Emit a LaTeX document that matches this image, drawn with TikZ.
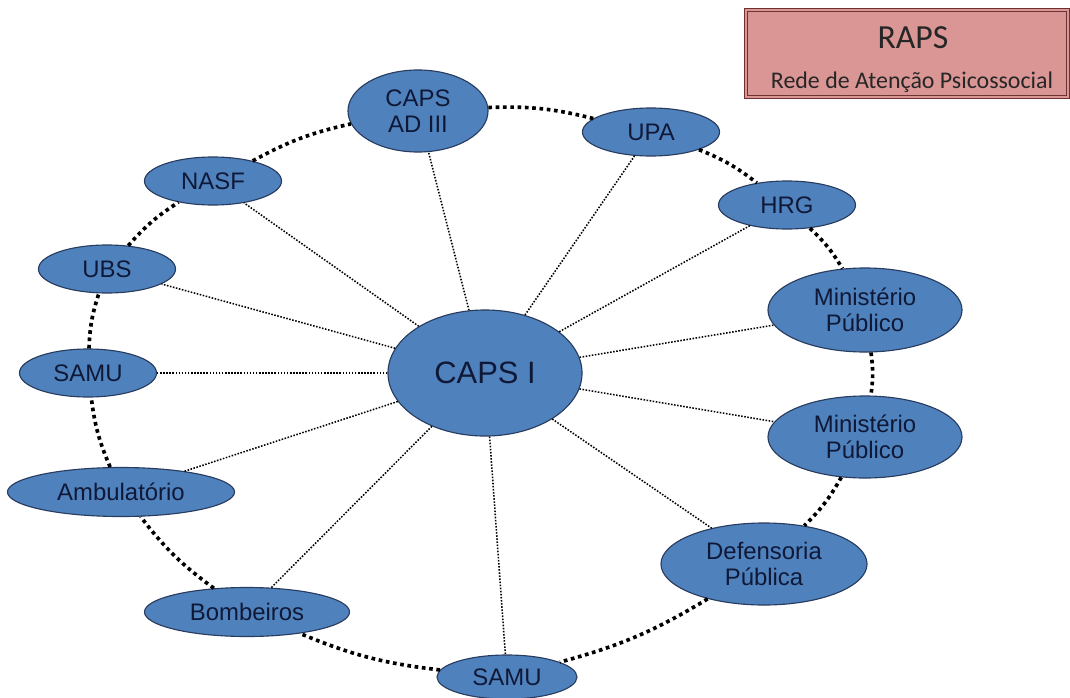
\documentclass[tikz,border=0pt]{standalone}
\usepackage{fontspec}
\setmainfont{Liberation Sans}
\newfontfamily\rapsfont{Carlito}
\usetikzlibrary{shapes.geometric}
\definecolor{capsfill}{RGB}{79,129,189}
\definecolor{capsline}{RGB}{40,60,95}
\definecolor{capstext}{RGB}{15,25,55}
\definecolor{rapsfill}{RGB}{217,150,148}
\definecolor{rapsline}{RGB}{110,50,50}
\tikzset{
  servico/.style={ellipse,draw=capsline,fill=capsfill,text=capstext,
    inner sep=0pt,align=center,font=\fontsize{17}{18.5}\selectfont,line width=0.8pt,
    minimum width=3.425cm,minimum height=1.2cm},
  anel/.style={line width=2.6pt,dash pattern=on 2.6pt off 2.6pt,bend left=8},
  raio/.style={line width=1.1pt,dash pattern=on 1.1pt off 1.1pt}
}
\begin{document}
\begin{tikzpicture}[x=0.025cm,y=-0.025cm]
  \useasboundingbox (0,0) rectangle (1070,697);
  % rede
  \node[servico,minimum width=4.85cm,minimum height=3.15cm,
    font=\fontsize{22}{24}\selectfont] (capsi) at (485,373) {CAPS I};
  \node[servico,minimum width=3.5cm,minimum height=2.05cm] (adiii) at (418,111) {CAPS\\AD III};
  \node[servico] (upa) at (651,132) {UPA};
  \node[servico] (hrg) at (787,205) {HRG};
  \node[servico,minimum width=4.85cm,minimum height=2.1cm] (mpa) at (865,310) {Ministério\\Público};
  \node[servico,minimum width=4.85cm,minimum height=2.05cm] (mpb) at (865,437) {Ministério\\Público};
  \node[servico,minimum width=5.15cm,minimum height=2.05cm] (defensoria) at (764,564) {Defensoria\\Pública};
  \node[servico,minimum width=3.5cm,minimum height=1.1cm] (samub) at (507,677) {SAMU};
  \node[servico,minimum width=5.125cm,minimum height=1.225cm] (bombeiros) at (247,612) {Bombeiros};
  \node[servico,minimum width=5.675cm,minimum height=1.225cm] (ambulatorio) at (121,492) {Ambulatório};
  \node[servico] (samua) at (88,373) {SAMU};
  \node[servico] (ubs) at (107,269) {UBS};
  \node[servico] (nasf) at (213,181) {NASF};
  % ligacoes
  \foreach \n in {adiii,upa,hrg,mpa,mpb,defensoria,samub,bombeiros,ambulatorio,samua,ubs,nasf}
    \draw[raio] (capsi) -- (\n);
  \foreach \a/\b in {adiii/upa,upa/hrg,hrg/mpa,mpa/mpb,mpb/defensoria,defensoria/samub,
    samub/bombeiros,bombeiros/ambulatorio,ambulatorio/samua,samua/ubs,ubs/nasf,nasf/adiii}
    \draw[anel] (\a) to (\b);
  % legenda
  \node[draw=rapsline,double=rapsfill,double distance=1.6pt,line width=0.6pt,
    fill=rapsfill,minimum width=8.05cm,minimum height=2.175cm] (raps) at (907,53.5) {};
  \node[font=\rapsfont\fontsize{24}{26}\selectfont,text=black!85,inner sep=0pt]
    (rapstitulo) at (913,38) {RAPS};
  \node[font=\rapsfont\fontsize{17}{19}\selectfont,text=black!85,inner sep=0pt]
    (rapssub) at (912,82) {Rede de Atenção Psicossocial};
\end{tikzpicture}
\end{document}
